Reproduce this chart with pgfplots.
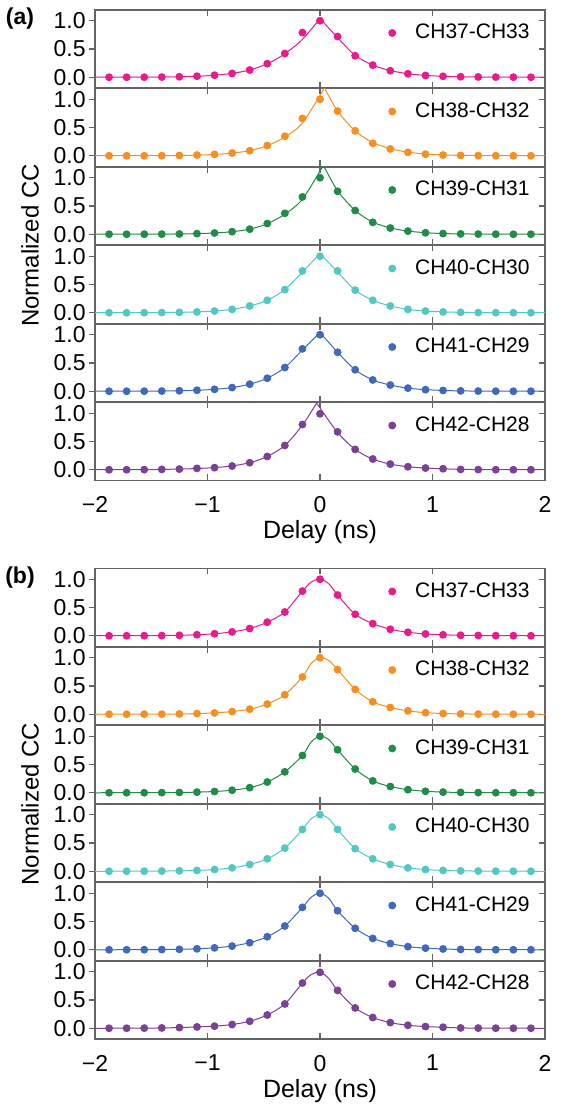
\documentclass[border=0pt]{standalone}
\usepackage{fontspec}
\setmainfont{Liberation Sans}
\usepackage{pgfplots}
\usepackage{pgfplotstable}
\pgfplotsset{compat=1.18}
\definecolor{axgray}{RGB}{100,100,100}
\definecolor{c1}{RGB}{232,26,140}
\definecolor{c2}{RGB}{246,142,32}
\definecolor{c3}{RGB}{32,140,70}
\definecolor{c4}{RGB}{82,200,196}
\definecolor{c5}{RGB}{66,104,190}
\definecolor{c6}{RGB}{124,64,152}

\pgfplotstableread{
x        d1    d2    d3    d4    d5    d6
-1.875   0     0     0     0     0     0
-1.71875 0     0     0     0     0     0
-1.5625  0.001 0.001 0.001 0.001 0.001 0.002
-1.40625 0.003 0.002 0.002 0.003 0.003 0.006
-1.25    0.008 0.005 0.005 0.007 0.008 0.012
-1.09375 0.018 0.012 0.011 0.015 0.017 0.024
-0.9375  0.036 0.024 0.022 0.030 0.034 0.037
-0.78125 0.068 0.048 0.045 0.060 0.065 0.066
-0.625   0.128 0.090 0.090 0.120 0.125 0.124
-0.46875 0.240 0.180 0.190 0.220 0.230 0.235
-0.3125  0.420 0.345 0.370 0.410 0.420 0.430
-0.15625 0.790 0.660 0.660 0.740 0.750 0.800
0        1.000 1.000 1.000 1.000 1.000 0.990
0.15625  0.720 0.790 0.760 0.740 0.690 0.670
0.3125   0.380 0.440 0.420 0.400 0.380 0.360
0.46875  0.215 0.220 0.210 0.220 0.200 0.190
0.625    0.115 0.120 0.110 0.120 0.110 0.100
0.78125  0.062 0.060 0.055 0.060 0.055 0.053
0.9375   0.032 0.028 0.026 0.030 0.028 0.030
1.09375  0.017 0.013 0.012 0.015 0.014 0.018
1.25     0.009 0.006 0.006 0.007 0.006 0.006
1.40625  0.005 0.003 0.003 0.003 0.003 0.003
1.5625   0.002 0.001 0.001 0.001 0.001 0.001
1.71875  0.001 0     0     0     0     0
1.875    0     0     0     0     0     0
}\datatable

\pgfplotsset{
 panel/.style={
  scale only axis, width=225pt, height=39pt,
  xmin=-2, xmax=2, ymin=-0.19, ymax=1.19,
  axis line style={draw=axgray, line width=0.6pt},
  tick align=inside, tick style={draw=axgray, line width=0.6pt},
  major tick length=3pt,
  xtick={-2,-1,0,1,2}, xticklabels={},
  ytick={0,0.5,1}, yticklabels={0.0,0.5,1.0},
  ytick pos=right, yticklabel pos=left,
  yticklabel style={font=\fontsize{11.5}{12}\selectfont, inner sep=0pt, anchor=east, xshift=-4.5pt},
  legend style={draw=none, fill=none, at={(1,0.705)}, anchor=east, xshift=-7.5pt,
     inner sep=0pt, nodes={inner sep=0pt}, font=\fontsize{10.5}{12}\selectfont},
  legend image code/.code={\path[draw=none] (-2pt,0pt) -- (11.5pt,0pt); \draw[##1] plot coordinates {(0pt,0pt)};},
  after end axis/.code={\foreach \yy in {0,0.5,1} {\draw[axgray, line width=0.6pt] (axis cs:-2,\yy) -- ++(-3pt,0pt);}},
 },
 bottompanel/.style={xticklabels={−2,−1,0,1,2},
  xticklabel style={font=\fontsize{11.5}{12}\selectfont, yshift=-4.5pt},
  xlabel={Delay (ns)}, xlabel style={font=\fontsize{12.5}{14}\selectfont, yshift=3pt}},
 fitline/.style={smooth, no marks, line width=0.5pt, forget plot},
}

\newcommand{\panel}[6]{%
\begin{axis}[panel, at={(47.5pt,#1pt)}, anchor=north west, #6]
#5
\addplot[only marks, mark=*, mark size=1.75pt, color=#2] table[x=x, y=#3] {\datatable};
\addlegendentry{#4}
\end{axis}}

\begin{document}
\begin{tikzpicture}
\path[use as bounding box] (0pt,0pt) rectangle (283pt,555.5pt);

% ---------------- (a) ----------------
\panel{550.5}{c1}{d1}{CH37-CH33}{%
\addplot[fitline,c1] coordinates {(-2,0) (-1.71875,0.001) (-1.40625,0.004) (-1.09375,0.018) (-0.9375,0.036) (-0.78125,0.068) (-0.625,0.128) (-0.46875,0.238) (-0.3125,0.415) (-0.15625,0.67) (0,1.04)};
\addplot[fitline,c1] coordinates {(0,1.04) (0.15625,0.70) (0.3125,0.385) (0.46875,0.215) (0.625,0.118) (0.78125,0.063) (0.9375,0.033) (1.09375,0.017) (1.25,0.009) (1.5625,0.002) (2,0)};
}{}
\panel{511.25}{c2}{d2}{CH38-CH32}{%
\addplot[fitline,c2] coordinates {(-2,0) (-1.5625,0.001) (-1.25,0.005) (-1.09375,0.011) (-0.9375,0.022) (-0.78125,0.046) (-0.625,0.09) (-0.46875,0.178) (-0.3125,0.33) (-0.15625,0.58) (0.04,1.2)};
\addplot[fitline,c2] coordinates {(0.04,1.2) (0.15625,0.79) (0.3125,0.44) (0.46875,0.235) (0.625,0.125) (0.78125,0.064) (0.9375,0.03) (1.09375,0.014) (1.25,0.007) (1.5625,0.001) (2,0)};
}{}
\panel{472}{c3}{d3}{CH39-CH31}{%
\addplot[fitline,c3] coordinates {(-2,0) (-1.5625,0.001) (-1.25,0.005) (-1.09375,0.011) (-0.9375,0.022) (-0.78125,0.045) (-0.625,0.09) (-0.46875,0.185) (-0.3125,0.355) (-0.15625,0.62) (0.03,1.22)};
\addplot[fitline,c3] coordinates {(0.03,1.22) (0.15625,0.77) (0.3125,0.42) (0.46875,0.215) (0.625,0.112) (0.78125,0.056) (0.9375,0.027) (1.09375,0.012) (1.25,0.006) (1.5625,0.001) (2,0)};
}{}
\panel{432.75}{c4}{d4}{CH40-CH30}{%
\addplot[fitline,c4] coordinates {(-2,0) (-1.5625,0.001) (-1.25,0.007) (-1.09375,0.015) (-0.9375,0.03) (-0.78125,0.06) (-0.625,0.12) (-0.46875,0.22) (-0.3125,0.41) (-0.15625,0.72) (0,1.05)};
\addplot[fitline,c4] coordinates {(0,1.05) (0.15625,0.72) (0.3125,0.40) (0.46875,0.22) (0.625,0.12) (0.78125,0.06) (0.9375,0.03) (1.09375,0.015) (1.25,0.007) (1.5625,0.001) (2,0)};
}{}
\panel{393.5}{c5}{d5}{CH41-CH29}{%
\addplot[fitline,c5] coordinates {(-2,0) (-1.5625,0.001) (-1.25,0.008) (-1.09375,0.017) (-0.9375,0.034) (-0.78125,0.065) (-0.625,0.125) (-0.46875,0.23) (-0.3125,0.42) (-0.15625,0.73) (0,1.04)};
\addplot[fitline,c5] coordinates {(0,1.04) (0.15625,0.69) (0.3125,0.38) (0.46875,0.20) (0.625,0.11) (0.78125,0.055) (0.9375,0.028) (1.09375,0.014) (1.25,0.006) (1.5625,0.001) (2,0)};
}{}
\panel{354.25}{c6}{d6}{CH42-CH28}{%
\addplot[fitline,c6] coordinates {(-2,0) (-1.5625,0.002) (-1.25,0.012) (-1.09375,0.022) (-0.9375,0.038) (-0.78125,0.068) (-0.625,0.125) (-0.46875,0.235) (-0.3125,0.43) (-0.15625,0.79) (-0.03,1.18)};
\addplot[fitline,c6] coordinates {(-0.03,1.18) (0.15625,0.66) (0.3125,0.36) (0.46875,0.19) (0.625,0.10) (0.78125,0.053) (0.9375,0.03) (1.09375,0.017) (1.25,0.007) (1.5625,0.001) (2,0)};
}{bottompanel}

% ---------------- (b) ----------------
\panel{271.25}{c1}{d1}{CH37-CH33}{%
\addplot[fitline,c1] coordinates {(-2,0) (-1.5625,0.001) (-1.25,0.008) (-1.09375,0.018) (-0.9375,0.036) (-0.78125,0.068) (-0.625,0.128) (-0.46875,0.24) (-0.3125,0.42) (-0.15625,0.79) (-0.078,0.95) (0,1.0) (0.078,0.92) (0.15625,0.72) (0.3125,0.38) (0.46875,0.215) (0.625,0.115) (0.78125,0.062) (0.9375,0.032) (1.09375,0.017) (1.25,0.009) (1.5625,0.002) (2,0)};
}{}
\panel{232}{c2}{d2}{CH38-CH32}{%
\addplot[fitline,c2] coordinates {(-2,0) (-1.5625,0.001) (-1.25,0.005) (-1.09375,0.012) (-0.9375,0.024) (-0.78125,0.048) (-0.625,0.09) (-0.46875,0.18) (-0.3125,0.345) (-0.15625,0.66) (-0.078,0.9) (0,1.0) (0.078,0.95) (0.15625,0.79) (0.3125,0.44) (0.46875,0.22) (0.625,0.12) (0.78125,0.06) (0.9375,0.028) (1.09375,0.013) (1.25,0.006) (1.5625,0.001) (2,0)};
}{}
\panel{192.75}{c3}{d3}{CH39-CH31}{%
\addplot[fitline,c3] coordinates {(-2,0) (-1.5625,0.001) (-1.25,0.005) (-1.09375,0.011) (-0.9375,0.022) (-0.78125,0.045) (-0.625,0.09) (-0.46875,0.19) (-0.3125,0.37) (-0.15625,0.66) (-0.078,0.9) (0,1.0) (0.078,0.94) (0.15625,0.76) (0.3125,0.42) (0.46875,0.21) (0.625,0.11) (0.78125,0.055) (0.9375,0.026) (1.09375,0.012) (1.25,0.006) (1.5625,0.001) (2,0)};
}{}
\panel{153.5}{c4}{d4}{CH40-CH30}{%
\addplot[fitline,c4] coordinates {(-2,0) (-1.5625,0.001) (-1.25,0.007) (-1.09375,0.015) (-0.9375,0.03) (-0.78125,0.06) (-0.625,0.12) (-0.46875,0.22) (-0.3125,0.41) (-0.15625,0.74) (-0.078,0.93) (0,1.0) (0.078,0.93) (0.15625,0.74) (0.3125,0.40) (0.46875,0.22) (0.625,0.12) (0.78125,0.06) (0.9375,0.03) (1.09375,0.015) (1.25,0.007) (1.5625,0.001) (2,0)};
}{}
\panel{114.25}{c5}{d5}{CH41-CH29}{%
\addplot[fitline,c5] coordinates {(-2,0) (-1.5625,0.001) (-1.25,0.008) (-1.09375,0.017) (-0.9375,0.034) (-0.78125,0.065) (-0.625,0.125) (-0.46875,0.23) (-0.3125,0.42) (-0.15625,0.75) (-0.078,0.93) (0,1.0) (0.078,0.91) (0.15625,0.69) (0.3125,0.38) (0.46875,0.20) (0.625,0.11) (0.78125,0.055) (0.9375,0.028) (1.09375,0.014) (1.25,0.006) (1.5625,0.001) (2,0)};
}{}
\panel{75}{c6}{d6}{CH42-CH28}{%
\addplot[fitline,c6] coordinates {(-2,0) (-1.5625,0.002) (-1.25,0.012) (-1.09375,0.024) (-0.9375,0.037) (-0.78125,0.066) (-0.625,0.124) (-0.46875,0.235) (-0.3125,0.43) (-0.15625,0.80) (-0.078,0.95) (0,0.99) (0.078,0.88) (0.15625,0.67) (0.3125,0.36) (0.46875,0.19) (0.625,0.10) (0.78125,0.053) (0.9375,0.03) (1.09375,0.018) (1.25,0.006) (1.5625,0.001) (2,0)};
}{bottompanel}

\node[font=\bfseries\fontsize{11.5}{12}\selectfont] at (10pt,546pt) {(a)};
\node[font=\bfseries\fontsize{11.5}{12}\selectfont] at (10pt,266.5pt) {(b)};
\node[rotate=90, font=\fontsize{12}{13}\selectfont] at (15pt,432.75pt) {Normalized CC};
\node[rotate=90, font=\fontsize{12}{13}\selectfont] at (15pt,153.5pt) {Normalized CC};
\end{tikzpicture}
\end{document}
